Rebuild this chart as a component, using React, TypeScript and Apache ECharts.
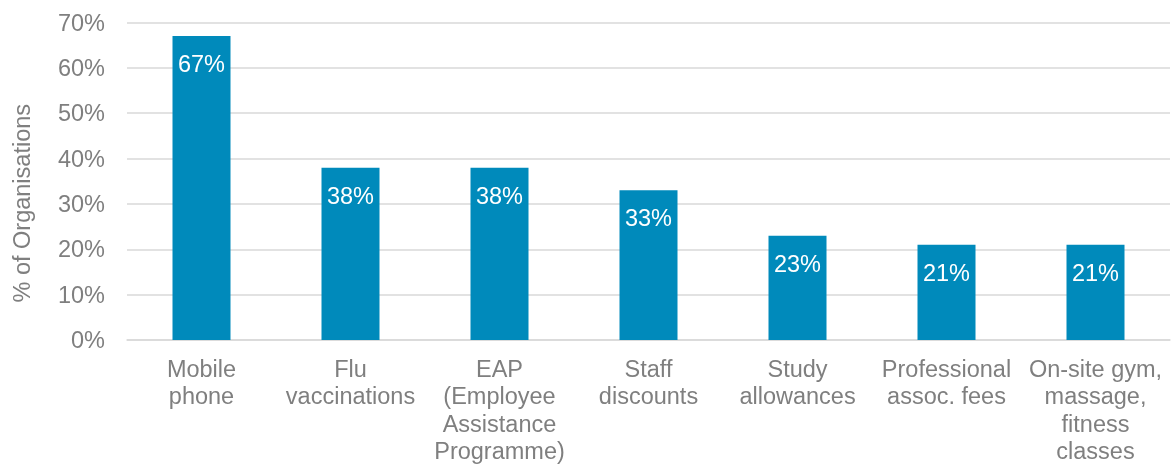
import React, { useEffect, useRef } from "react";
import * as echarts from "echarts";

const categories = [
  "Mobile\nphone",
  "Flu\nvaccinations",
  "EAP\n(Employee\nAssistance\nProgramme)",
  "Staff\ndiscounts",
  "Study\nallowances",
  "Professional\nassoc. fees",
  "On-site gym,\nmassage,\nfitness\nclasses",
];
const values = [67, 38, 38, 33, 23, 21, 21];
const yTicks = { min: 0, max: 70, interval: 10 };

export default function App() {
  const ref = useRef<HTMLDivElement>(null);
  useEffect(() => {
    document.body.style.margin = "0";
    const chart = echarts.init(ref.current!, null, { renderer: "svg" });
    const font = "'Liberation Sans', Arial, sans-serif";
    const fs = 23.5;
    chart.setOption({
      animation: false,
      textStyle: { fontFamily: font },
      grid: { left: 127, right: 2, top: 22.5, bottom: 122, containLabel: false },
      xAxis: {
        type: "category",
        data: categories,
        axisLine: { show: true, lineStyle: { color: "#d9d9d9", width: 1.5 } },
        axisTick: { show: false },
        axisLabel: {
          color: "#7f7f7f",
          fontSize: fs,
          lineHeight: 27.5,
          margin: 15,
          interval: 0,
          fontFamily: font,
        },
      },
      yAxis: {
        type: "value",
        min: yTicks.min,
        max: yTicks.max,
        interval: yTicks.interval,
        name: "% of Organisations",
        nameLocation: "middle",
        nameGap: 93,
        nameTextStyle: {
          color: "#7f7f7f",
          fontSize: fs,
          fontFamily: font,
          padding: [0, 44, 0, 0],
        },
        axisLine: { show: false },
        axisTick: { show: false },
        axisLabel: {
          color: "#7f7f7f",
          fontSize: fs,
          margin: 22,
          formatter: "{value}%",
          fontFamily: font,
        },
        splitLine: { lineStyle: { color: "#d9d9d9", width: 1.5 } },
      },
      series: [
        {
          type: "bar",
          data: values,
          barWidth: 58,
          itemStyle: { color: "#008ABB" },
          label: {
            show: true,
            position: "insideTop",
            distance: 16,
            color: "#ffffff",
            fontSize: fs,
            fontFamily: font,
            formatter: "{c}%",
          },
        },
      ],
    });
    return () => chart.dispose();
  }, []);
  return (
    <div
      ref={ref}
      style={{ position: "fixed", left: 0, top: 0, width: 1172, height: 465 }}
    />
  );
}
